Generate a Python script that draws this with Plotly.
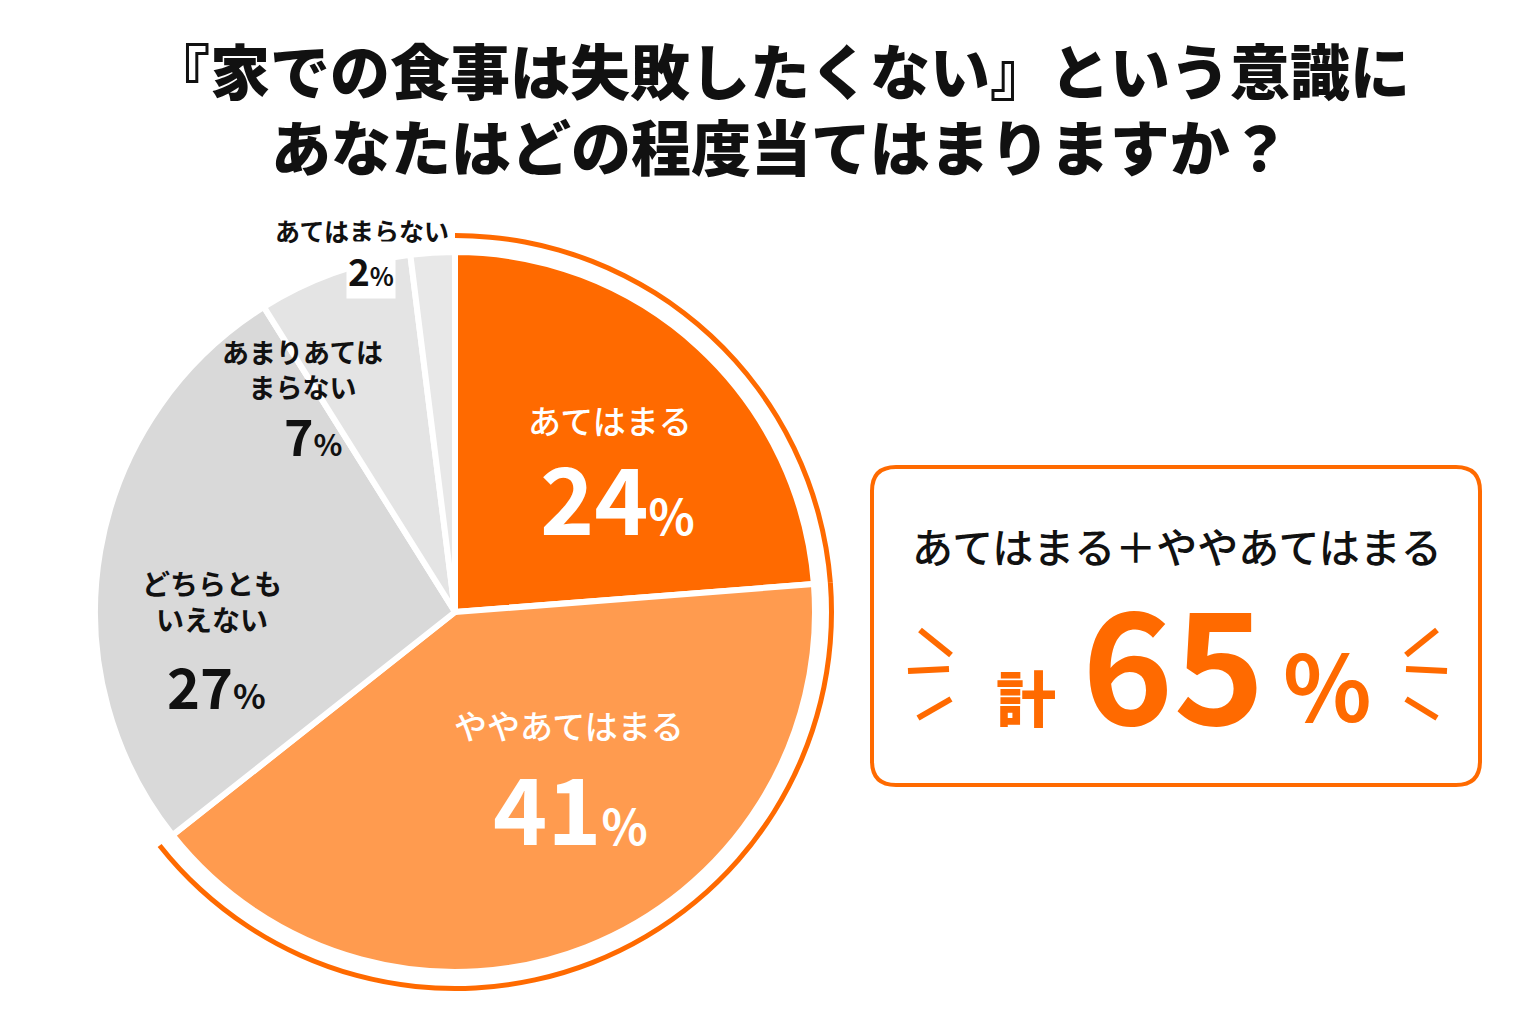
import plotly.graph_objects as go

# data
categories = ['あてはまる', 'ややあてはまる', 'どちらともいえない', 'あまりあてはまらない', 'あてはまらない']
values = [24, 41, 27, 7, 2]
slice_labels = ['あてはまる', 'ややあてはまる', 'どちらとも<br>いえない', 'あまりあては<br>まらない', 'あてはまらない']
total_title = 'あてはまる＋ややあてはまる'
title_lines = ['『家での食事は失敗したくない』という意識に', 'あなたはどの程度当てはまりますか？']

colors = ['#FF6A00', '#FF9B4F', '#D9D9D9', '#E4E4E4', '#E8E8E8']
ORANGE = '#FF6A00'
FONT = 'Noto Sans CJK JP'

W, H = 1535, 1024
OFF = 8  # page body margin


def px(x):
    return (x - OFF) / W


def py(y):
    return 1 - (y - OFF) / H


# pie centre / radius in pixels
cx, cy, r = 455, 612, 360
ring_out, ring_in = r + 19, r + 14

fig = go.Figure()
fig.add_trace(go.Pie(labels=categories, values=values, sort=False, direction='clockwise',
                     marker=dict(colors=colors, line=dict(color='white', width=6)),
                     textinfo='none', hoverinfo='label+percent', showlegend=False,
                     domain=dict(x=[px(cx - r), px(cx + r)], y=[py(cy + r), py(cy - r)])))
# orange ring around the two "agree" slices
ring_colors = [ORANGE, ORANGE] + ['rgba(0,0,0,0)'] * (len(values) - 2)
fig.add_trace(go.Pie(labels=categories, values=values, sort=False, direction='clockwise',
                     hole=ring_in / ring_out,
                     marker=dict(colors=ring_colors, line=dict(width=0)),
                     textinfo='none', hoverinfo='skip', showlegend=False,
                     domain=dict(x=[px(cx - ring_out), px(cx + ring_out)],
                                 y=[py(cy + ring_out), py(cy - ring_out)])))

annotations = []


def note(x, y, text, **kw):
    annotations.append(dict(x=px(x), y=py(y), text=text, showarrow=False,
                            xref='paper', yref='paper', xanchor='center', yanchor='middle', **kw))


# title
for txt, y in zip(title_lines, [68, 144]):
    note(780, y, txt, font=dict(family=FONT, size=60, color='#111111', weight=900))

# slice labels: (name x, name y, value x, value y, name size, num size, pct size, color, name weight)
label_pos = [
    (610, 420, 617, 494, 33, 92, 48, 'white', 500),
    (569, 725, 570, 804, 33, 92, 48, 'white', 500),
    (212, 601, 217, 684, 28, 56, 34, '#111111', 700),
    (302, 369, 313, 434, 27, 50, 30, '#111111', 700),
    (362, 230, 371, 270, 25, 37, 25, '#111111', 700),
]
for name, v, (nx, ny, vx, vy, ns, ds, ps, col, wt) in zip(slice_labels, values, label_pos):
    note(nx, ny, name, font=dict(family=FONT, size=ns, color=col, weight=wt))
    note(vx, vy, f"<span style='font-size:{ds}px'><b>{v}</b></span>"
                 f"<span style='font-size:{ps}px'>%</span>",
         bgcolor='white' if v == values[-1] else 'rgba(0,0,0,0)',
         font=dict(family=FONT, size=ds, color=col, weight=700))

# summary box text
note(1177, 545, total_title, font=dict(family=FONT, size=41, color='#111111', weight=500))
note(1026, 695, '計', font=dict(family=FONT, size=60, color=ORANGE, weight=900))
note(1173, 657, f'<b>{values[0] + values[1]}</b>', font=dict(family=FONT, size=155, color=ORANGE, weight=900))
note(1327, 681, '%', font=dict(family=FONT, size=92, color=ORANGE, weight=700))

# rounded box
x0, y0, x1, y1, rr = 872, 467, 1480, 785, 24
path = (f"M {px(x0 + rr)},{py(y0)} L {px(x1 - rr)},{py(y0)} Q {px(x1)},{py(y0)} {px(x1)},{py(y0 + rr)} "
        f"L {px(x1)},{py(y1 - rr)} Q {px(x1)},{py(y1)} {px(x1 - rr)},{py(y1)} "
        f"L {px(x0 + rr)},{py(y1)} Q {px(x0)},{py(y1)} {px(x0)},{py(y1 - rr)} "
        f"L {px(x0)},{py(y0 + rr)} Q {px(x0)},{py(y0)} {px(x0 + rr)},{py(y0)} Z")
shapes = [dict(type='path', xref='paper', yref='paper', path=path,
               line=dict(color=ORANGE, width=4), fillcolor='white', layer='below')]

# little burst strokes beside the total
strokes = [((920, 630), (951, 655)), ((908, 671), (949, 669)), ((918, 718), (951, 699)),
           ((1437, 630), (1406, 655)), ((1406, 669), (1447, 671)), ((1406, 699), (1437, 718))]
for (ax, ay), (bx, by) in strokes:
    shapes.append(dict(type='line', xref='paper', yref='paper', x0=px(ax), y0=py(ay),
                       x1=px(bx), y1=py(by), line=dict(color=ORANGE, width=6)))

fig.update_layout(width=W, height=H, margin=dict(l=0, r=0, t=0, b=0),
                  paper_bgcolor='white', plot_bgcolor='white',
                  annotations=annotations, shapes=shapes)

fig.write_html("out.html")
